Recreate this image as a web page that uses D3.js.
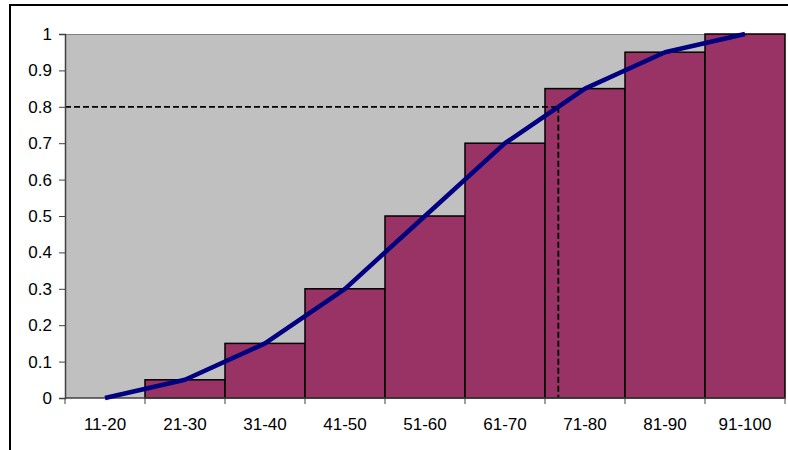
<!DOCTYPE html>
<html><head><meta charset="utf-8">
<script src="https://cdn.jsdelivr.net/npm/d3@7"></script>
<style>body{margin:0;background:#fff}svg{display:block}text{font-family:"Liberation Sans",Arial,sans-serif}</style>
</head><body>
<svg id="c" width="788" height="450"></svg>
<script>
const categories = ["11-20","21-30","31-40","41-50","51-60","61-70","71-80","81-90","91-100"];
const barValues = [0, 0.05, 0.15, 0.3, 0.5, 0.7, 0.85, 0.95, 1.0];
const lineValues = [0, 0.05, 0.15, 0.3, 0.5, 0.7, 0.85, 0.95, 1.0];
const yTicks = [0,0.1,0.2,0.3,0.4,0.5,0.6,0.7,0.8,0.9,1];
const threshold = 0.8;

const svg = d3.select("#c");
const L = 65, R = 785, T = 34, B = 398;
const FS = 17;

// outer frame
svg.append("line").attr("x1",10).attr("x2",10).attr("y1",4).attr("y2",450).attr("stroke","#000").attr("stroke-width",2);
svg.append("line").attr("x1",10).attr("x2",788).attr("y1",5).attr("y2",5).attr("stroke","#000").attr("stroke-width",2);

const x = d3.scaleBand().domain(categories).range([L,R]).paddingInner(0).paddingOuter(0);
const y = d3.scaleLinear().domain([0,1]).range([B,T]);

// plot background
svg.append("rect").attr("x",L).attr("y",T).attr("width",R-L).attr("height",B-T).attr("fill","#C0C0C0");
svg.append("line").attr("x1",L).attr("x2",R).attr("y1",T+0.5).attr("y2",T+0.5).attr("stroke","#808080").attr("stroke-width",1);

// bars
svg.append("g").selectAll("rect").data(categories.map((c,i)=>({c, v:barValues[i]})).filter(d=>d.v>0)).join("rect")
  .attr("x",d=>x(d.c))
  .attr("y",d=>y(d.v))
  .attr("width",x.bandwidth())
  .attr("height",d=>y(0)-y(d.v))
  .attr("fill","#993366").attr("stroke","#000").attr("stroke-width",1.5);

// threshold crossing from line data
let cx = null;
for (let i=1;i<lineValues.length;i++){
  if (lineValues[i-1] < threshold && lineValues[i] >= threshold){
    const x0 = x(categories[i-1])+x.bandwidth()/2, x1 = x(categories[i])+x.bandwidth()/2;
    cx = x0 + (x1-x0)*(threshold-lineValues[i-1])/(lineValues[i]-lineValues[i-1]);
    break;
  }
}
const dash = svg.append("g").attr("stroke","#000").attr("stroke-width",1.8).attr("stroke-dasharray","6,3").attr("fill","none");
dash.append("line").attr("x1",L).attr("x2",cx).attr("y1",y(threshold)).attr("y2",y(threshold));
dash.append("line").attr("x1",cx).attr("x2",cx).attr("y1",y(threshold)).attr("y2",y(0));

// axes
const yAxis = svg.append("g").attr("transform",`translate(${L},0)`)
  .call(d3.axisLeft(y).tickValues(yTicks).tickSize(6).tickPadding(7).tickFormat(d3.format("~g")));
yAxis.attr("font-size",FS).attr("font-family","'Liberation Sans',Arial,sans-serif");
yAxis.select(".domain").attr("stroke","#404040").attr("stroke-width",1.5);
yAxis.selectAll(".tick line").attr("stroke","#404040");
yAxis.selectAll("text").attr("fill","#000");

const boundaries = categories.map(c=>x(c)).concat([R]);
const xg = svg.append("g");
xg.append("line").attr("x1",L).attr("x2",R).attr("y1",B).attr("y2",B).attr("stroke","#404040").attr("stroke-width",1.5);
xg.selectAll("line.t").data(boundaries).join("line").attr("class","t")
  .attr("x1",d=>d).attr("x2",d=>d).attr("y1",B).attr("y2",B+6).attr("stroke","#404040");
xg.selectAll("text").data(categories).join("text")
  .attr("x",d=>x(d)+x.bandwidth()/2).attr("y",B+32)
  .attr("text-anchor","middle").attr("font-size",FS).attr("fill","#000").text(d=>d);

// cumulative line
const line = d3.line().x((d,i)=>x(categories[i])+x.bandwidth()/2).y(d=>y(d));
svg.append("path").datum(lineValues).attr("d",line).attr("fill","none")
  .attr("stroke","#000080").attr("stroke-width",4.5).attr("stroke-linejoin","round");
</script>
</body></html>
